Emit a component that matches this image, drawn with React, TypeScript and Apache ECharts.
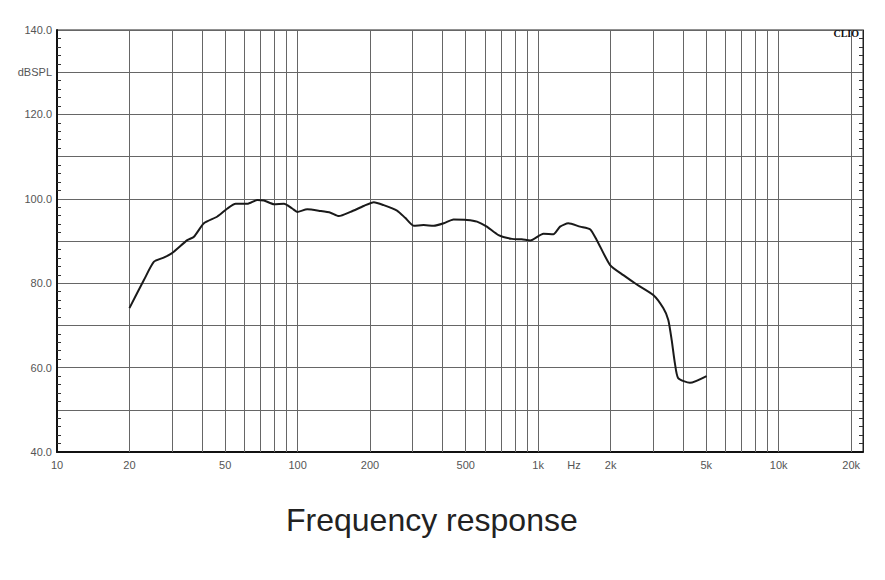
import React, { useEffect, useRef } from "react";
import * as echarts from "echarts";

const freqs = [20, 23, 25.3, 27.9, 30.2, 34.8, 37.1, 40.8, 46.4, 51.1, 55.3, 61.8, 68.1, 72.5, 79.8, 87.8, 95.0, 99.7, 109.7, 124.5, 137, 148.4, 166, 188.4, 207.5, 228, 259, 280, 304, 334, 368, 405, 445, 506, 557, 612, 684, 778, 855, 927, 1052, 1157, 1233, 1335, 1494, 1643, 1753, 1991, 2261, 2570, 3010, 3311, 3475, 3590, 3702, 3818, 4275, 5012];
const spl = [74.1, 80.8, 85.1, 86.1, 87.2, 90.2, 91.0, 94.2, 95.8, 97.7, 98.8, 98.8, 99.7, 99.6, 98.7, 98.8, 97.7, 96.9, 97.5, 97.1, 96.7, 95.9, 96.9, 98.3, 99.2, 98.5, 97.2, 95.5, 93.6, 93.8, 93.6, 94.2, 95.1, 95.0, 94.6, 93.4, 91.4, 90.5, 90.4, 90.1, 91.7, 91.6, 93.4, 94.2, 93.4, 92.8, 90.2, 84.3, 81.9, 79.7, 77.2, 74.1, 71.3, 66.5, 61.0, 57.5, 56.4, 58.0];

const gridFreqs = [20, 30, 40, 50, 60, 70, 80, 90, 100, 200, 300, 400, 500, 600, 700, 800, 900, 1000, 2000, 3000, 4000, 5000, 6000, 7000, 8000, 9000, 10000, 20000];
const xLabelValues = [10, 20, 50, 100, 200, 500, 1000, 1410, 2000, 5000, 10000, 20000];
const HZ_POS = 1410;

export default function App() {
  const ref = useRef<HTMLDivElement>(null);
  useEffect(() => {
    const chart = echarts.init(ref.current!, null, { renderer: "svg" });
    const labelStyle = { color: "#555", fontSize: 11, fontFamily: "Liberation Sans, Arial, sans-serif" };
    chart.setOption({
      animation: false,
      backgroundColor: "#fff",
      grid: { left: 57, right: 22, top: 30, bottom: 128, show: true, borderColor: "#222", borderWidth: 1, backgroundColor: "transparent" },
      xAxis: {
        type: "log",
        logBase: 10,
        min: 10,
        max: 22400,
        axisLine: { show: true, lineStyle: { color: "#111", width: 2 } },
        axisTick: { show: false },
        splitLine: { show: false },
        minorTick: { show: false },
        axisLabel: {
          ...labelStyle,
          margin: 7,
          customValues: xLabelValues,
          formatter: (v: number) => {
            if (Math.abs(v - HZ_POS) < 5) return "Hz";
            if (v >= 1000) return Math.round(v / 1000) + "k";
            return String(Math.round(v));
          },
        },
      },
      yAxis: [
        {
          type: "value",
          min: 40,
          max: 140,
          interval: 10,
          position: "left",
          axisLine: { show: true, lineStyle: { color: "#111", width: 2 } },
          axisTick: { show: false, inside: true },
          minorTick: { show: true, splitNumber: 5, length: 4, lineStyle: { color: "#333", width: 1 } },
          splitLine: { show: true, lineStyle: { color: "#666", width: 1 } },
          axisLabel: {
            ...labelStyle,
            margin: 5,
            formatter: (v: number) => (v === 130 ? "dBSPL" : v % 20 === 0 ? v.toFixed(1) : ""),
          },
        },
        {
          type: "value",
          min: 40,
          max: 140,
          interval: 10,
          position: "right",
          axisLine: { show: true, lineStyle: { color: "#222", width: 1 } },
          axisTick: { show: false, inside: true },
          minorTick: { show: true, splitNumber: 5, length: 4, lineStyle: { color: "#333", width: 1 } },
          splitLine: { show: false },
          axisLabel: { show: false },
        },
      ],
      graphic: [
        {
          type: "text",
          right: 26,
          top: 28,
          style: { text: "CLIO", font: "bold 10px 'Liberation Serif', serif", fill: "#111" },
          z: 10,
        },
        {
          type: "text",
          left: 286,
          top: 504,
          style: { text: "Frequency response", font: "32px 'Liberation Sans', Arial, sans-serif", fill: "#222" },
        },
      ],
      series: [
        {
          type: "line",
          data: [],
          z: 1,
          silent: true,
          markLine: {
            silent: true,
            symbol: "none",
            label: { show: false },
            lineStyle: { color: "#666", width: 1, type: "solid" },
            data: gridFreqs.map((f) => ({ xAxis: f })),
          },
        },
        {
          type: "line",
          data: freqs.map((f, i) => [f, spl[i]]),
          showSymbol: false,
          smooth: 0.2,
          z: 5,
          lineStyle: { color: "#1a1a1a", width: 2 },
        },
      ],
    });
    return () => chart.dispose();
  }, []);
  return <div ref={ref} style={{ position: "fixed", left: 0, top: 0, width: 885, height: 580 }} />;
}
